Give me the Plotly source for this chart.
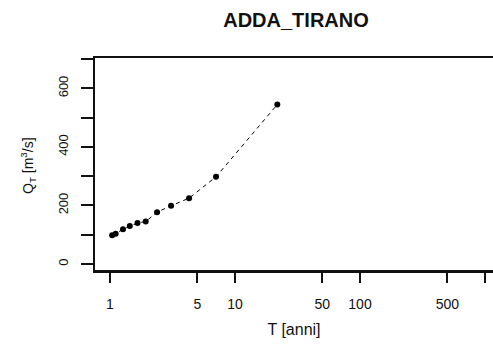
import plotly.graph_objects as go

# Data
T_anni = [1.04, 1.11, 1.27, 1.44, 1.66, 1.93, 2.38, 3.08, 4.29, 7.05, 21.8]
Q_T = [98, 103, 119, 130, 140, 145, 177, 199, 225, 298, 545]

x_tick_vals = [1, 5, 10, 50, 100, 500]
x_tick_text = ["1", "5", "10", "50", "100", "500"]
x_minor_vals = [1000]
y_tick_vals = [0, 200, 400, 600]
y_tick_text = ["0", "200", "400", "600"]
y_minor_vals = [100, 300, 500, 700]

font_family = "Liberation Sans, Arial, sans-serif"
ink = "#111111"

fig = go.Figure()
fig.add_trace(go.Scatter(
    x=T_anni, y=Q_T, mode="lines+markers",
    line=dict(color="black", width=1, dash="4px,4px"),
    marker=dict(color="black", size=6),
    showlegend=False, cliponaxis=False,
))

fig.update_layout(
    width=493, height=354,
    margin=dict(l=95, r=0, t=58, b=83, autoexpand=False),
    paper_bgcolor="white", plot_bgcolor="white",
    font=dict(family=font_family, color=ink, size=12),
    title=dict(text="<b>ADDA_TIRANO</b>", x=296 / 493, xanchor="center",
               y=1 - 20 / 354, yanchor="middle",
               font=dict(size=20, family=font_family, color=ink)),
    xaxis=dict(
        type="log", range=[-0.12, 3.064], automargin=False,
        tickvals=x_tick_vals, ticktext=x_tick_text,
        ticks="outside", ticklen=10, tickwidth=2, tickcolor=ink,
        minor=dict(tickvals=x_minor_vals, ticks="outside", ticklen=10,
                   tickwidth=2, tickcolor=ink, showgrid=False),
        showline=True, linecolor=ink, linewidth=2, mirror=True,
        showgrid=False, zeroline=False,
        tickfont=dict(size=14), ticklabelstandoff=9,
        title=dict(text="T [anni]", font=dict(size=16), standoff=13),
    ),
    yaxis=dict(
        range=[-24, 704], automargin=False,
        tickvals=y_tick_vals, ticktext=y_tick_text,
        ticks="outside", ticklen=12, tickwidth=2, tickcolor=ink,
        minor=dict(tickvals=y_minor_vals, ticks="outside", ticklen=12,
                   tickwidth=2, tickcolor=ink, showgrid=False),
        showline=True, linecolor=ink, linewidth=2, mirror=False,
        showgrid=False, zeroline=False,
        tickangle=-90, tickfont=dict(size=13), ticklabelstandoff=8,
    ),
    shapes=[dict(
        type="line", xref="paper", yref="paper", x0=0, x1=1, y0=0, y1=0,
        line=dict(color=ink, width=2), layer="above",
    )],
    annotations=[dict(
        text="Q<sub>T</sub> [m<sup>3</sup>/s]", textangle=-90,
        xref="paper", yref="paper", x=-(95 - 28) / 398, y=(271 - 166) / 213,
        xanchor="center", yanchor="middle", showarrow=False,
        font=dict(size=14, family=font_family, color=ink),
    )],
)

fig.write_html(
    "out.html",
    config={"displayModeBar": False},
    post_script="document.body.style.margin='0';document.body.style.overflow='hidden';",
)
